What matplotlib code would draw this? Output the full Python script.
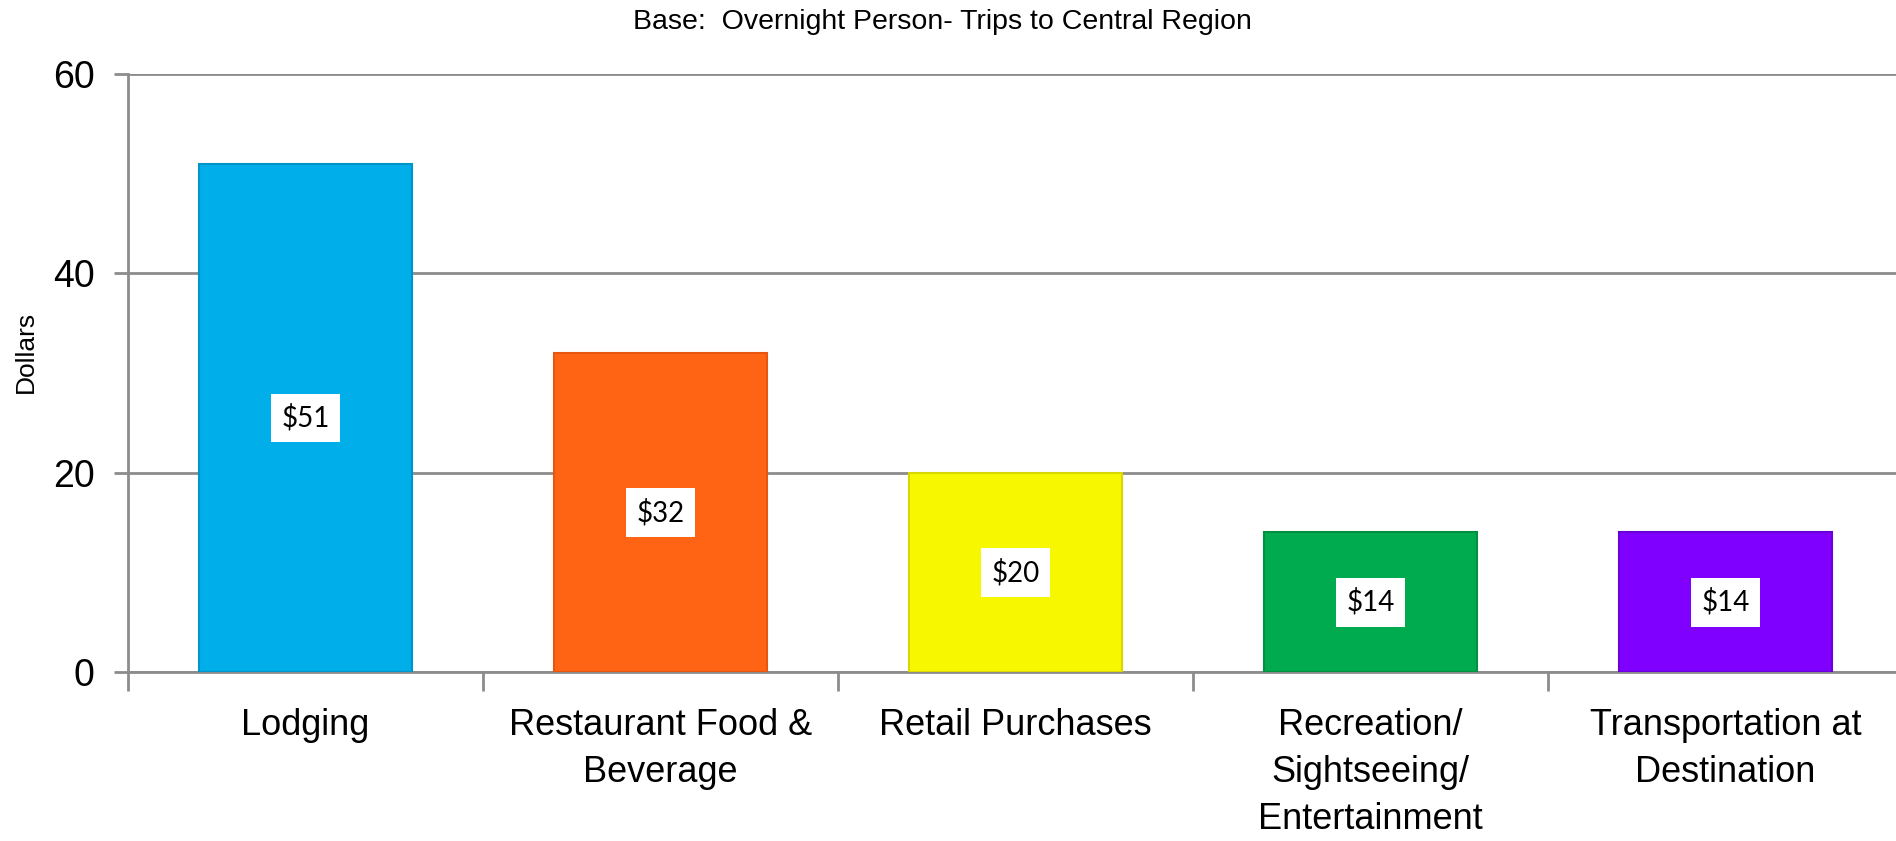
import matplotlib.pyplot as plt
import numpy as np

# Dépenses moyennes par catégorie
categories = ["Lodging", "Restaurant Food &\nBeverage", "Retail Purchases",
              "Recreation/\nSightseeing/\nEntertainment", "Transportation at\nDestination"]
dollars = [51, 32, 20, 14, 14]
bar_colors = ["#00AEEA", "#FF6414", "#F7F700", "#00AA4F", "#7F00FF"]
edge_colors = ["#0095C8", "#E85510", "#D8D800", "#00903F", "#6A00D8"]
yticks = [0, 20, 40, 60]

narrow = ["Liberation Sans Narrow", "Liberation Sans", "DejaVu Sans"]

fig = plt.figure(figsize=(18.96, 8.41), dpi=100)
ax = fig.add_axes([0.0675, 0.201, 0.9362, 0.711])

x = np.arange(len(categories))
ax.bar(x, dollars, width=0.6, color=bar_colors, edgecolor=edge_colors,
       linewidth=1.5, zorder=3)

for xi, v in zip(x, dollars):
    ax.text(xi, v / 2, f"${v}", ha="center", va="center", fontsize=20,
            family=["Lato", "DejaVu Sans"], zorder=4,
            bbox=dict(boxstyle="square,pad=0.38", fc="white", ec="none"))

ax.set_xlim(-0.5, len(categories) - 0.5)
ax.set_ylim(0, 60)
ax.set_yticks(yticks)
ax.set_yticklabels([str(t) for t in yticks], fontsize=27, family=narrow)
ax.yaxis.grid(True, color="#8C8C8C", linewidth=2, zorder=0)

# Graduations de l'axe x entre les catégories
ax.set_xticks(np.arange(len(categories) + 1) - 0.5, minor=False)
ax.set_xticklabels([])
ax.set_xticks(x, minor=True)
ax.set_xticklabels(categories, minor=True, fontsize=26, family=narrow,
                   linespacing=1.45)
ax.tick_params(axis="x", which="minor", length=0, pad=26)
ax.tick_params(axis="x", which="major", length=14, width=2, color="#8C8C8C")
ax.tick_params(axis="y", length=10, width=2, color="#8C8C8C", pad=14)

for s in ["top", "right"]:
    ax.spines[s].set_visible(False)
ax.spines["left"].set_color("#8C8C8C")
ax.spines["left"].set_linewidth(2)
ax.spines["bottom"].set_color("#8C8C8C")
ax.spines["bottom"].set_linewidth(2)

ax.set_ylabel("Dollars", fontsize=19, family=["Liberation Sans", "DejaVu Sans"])
ax.yaxis.set_label_coords(-0.051, 0.535)
fig.text(0.497, 0.974, "Base:  Overnight Person- Trips to Central Region",
         ha="center", va="center", fontsize=20.5,
         family=["Liberation Sans", "DejaVu Sans"])

fig.savefig("out.png", dpi=100)
